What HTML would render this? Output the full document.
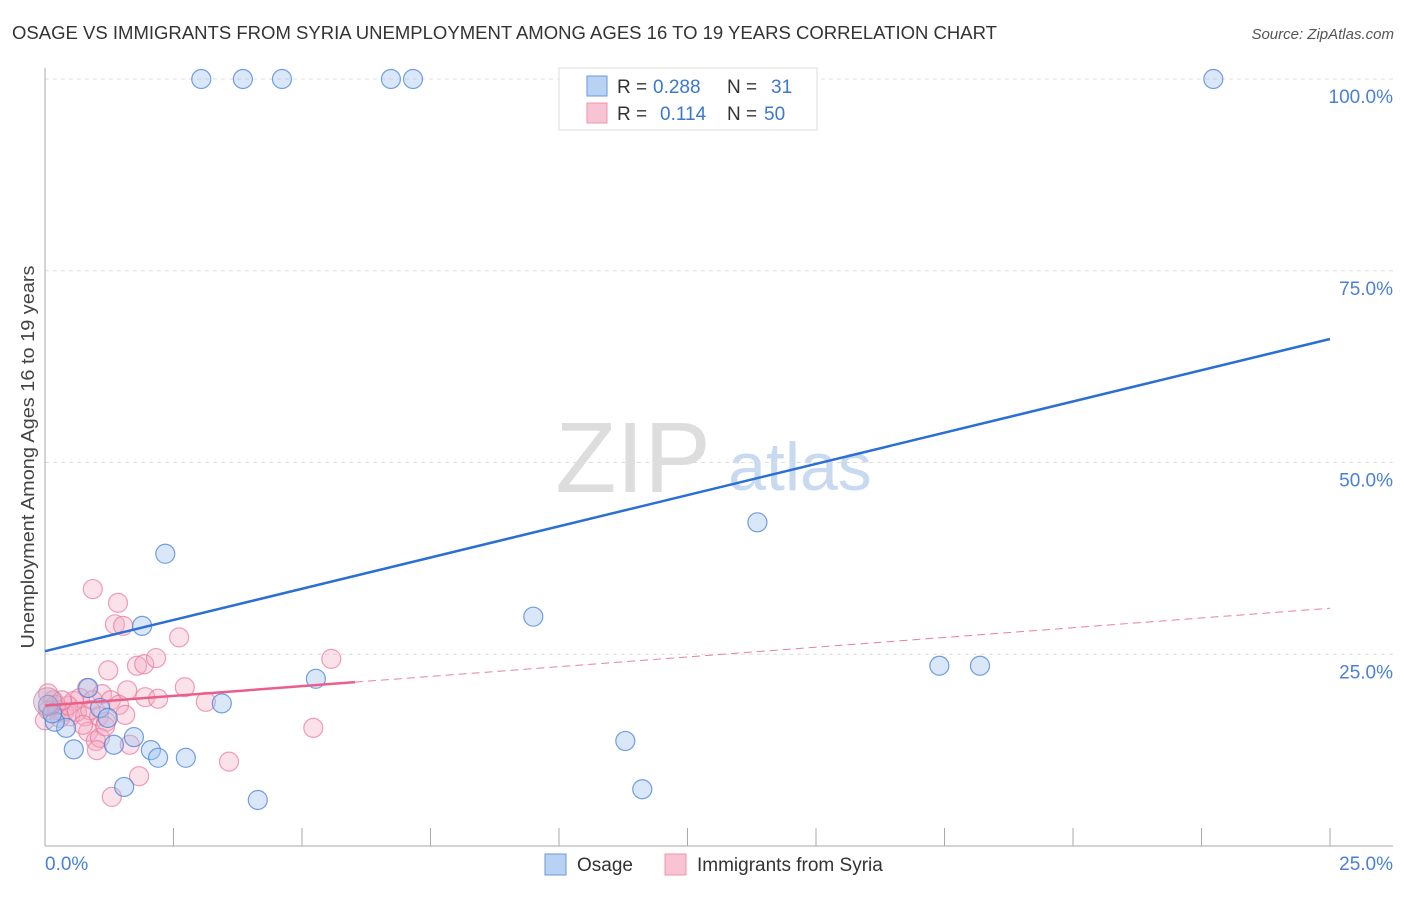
<!DOCTYPE html>
<html><head><meta charset="utf-8"><style>
body{margin:0;background:#fff;font-family:"Liberation Sans",sans-serif;}
svg text{font-family:"Liberation Sans",sans-serif;}
</style></head><body>
<svg id="chart" width="1406" height="892" viewBox="0 0 1406 892" xmlns="http://www.w3.org/2000/svg">
<text x="12" y="39" font-size="18" fill="#333" textLength="985" lengthAdjust="spacingAndGlyphs">OSAGE VS IMMIGRANTS FROM SYRIA UNEMPLOYMENT AMONG AGES 16 TO 19 YEARS CORRELATION CHART</text>
<text x="1394" y="39" font-size="15" fill="#555" font-style="italic" text-anchor="end">Source: ZipAtlas.com</text>
<g>
<text x="633" y="492" font-size="100" fill="#ddd" font-family="Liberation Serif,serif" text-anchor="middle">ZIP</text>
<text x="800" y="490" font-size="68" fill="#c8daf0" text-anchor="middle">atlas</text>
</g>
<g id="grid"></g>
<g id="axes"></g>
<g id="marks"></g>
<text transform="translate(34,457) rotate(-90)" font-size="18" fill="#444" text-anchor="middle" textLength="383" lengthAdjust="spacingAndGlyphs">Unemployment Among Ages 16 to 19 years</text>
<g>
<rect x="559" y="68" width="258" height="62" fill="#fff" stroke="#ddd"/>
<rect x="587" y="76" width="20" height="20" fill="#b8d2f4" stroke="#6a9ad8"/>
<rect x="587" y="103" width="20" height="20" fill="#f8c4d3" stroke="#ec95ae"/>
<text x="617" y="93" font-size="19" fill="#333">R =</text>
<text x="653" y="93" font-size="19" fill="#3a78d0">0.288</text>
<text x="727" y="93" font-size="19" fill="#333">N =</text>
<text x="771" y="93" font-size="19" fill="#3a78d0">31</text>
<text x="617" y="120" font-size="19" fill="#333">R =</text>
<text x="660" y="120" font-size="19" fill="#3a78d0">0.114</text>
<text x="727" y="120" font-size="19" fill="#333">N =</text>
<text x="764" y="120" font-size="19" fill="#3a78d0">50</text>
</g>
<g>
<rect x="545" y="854" width="21" height="21" fill="#b8d2f4" stroke="#6a9ad8"/>
<text x="577" y="871" font-size="19" fill="#333">Osage</text>
<rect x="665" y="854" width="21" height="21" fill="#f8c4d3" stroke="#ec95ae"/>
<text x="697" y="871" font-size="19" fill="#333">Immigrants from Syria</text>
</g>
</svg>
<script>
const osageX=[3.04,3.85,4.61,6.73,7.16,22.73,13.86,2.34,9.50,1.89,17.40,18.19,5.27,0.84,3.44,1.07,1.22,0.41,0.19,0.56,1.34,1.73,2.06,2.20,2.74,1.54,4.14,11.29,11.62,0.06,0.14];
const osageY=[100,100,100,100,100,100,42.2,38.1,29.9,28.7,23.5,23.5,21.8,20.6,18.6,18.0,16.7,15.4,16.2,12.6,13.2,14.2,12.5,11.5,11.5,7.7,6.0,13.7,7.4,18.4,17.3];
const syriaX=[0.93,1.42,1.36,1.52,2.61,1.23,1.79,1.93,2.16,5.57,0.82,1.11,1.60,1.95,2.20,2.72,3.13,0.56,0.68,0.93,0.16,0.06,0.25,0.37,0.49,0.78,1.05,1.28,1.44,1.56,1.19,0.84,0.99,1.07,1.65,1.01,1.83,1.30,5.22,3.58,0.06,0.0,0.29,0.45,0.62,0.21,0.88,1.17,0.74,0.33];
const syriaY=[33.5,31.7,28.9,28.7,27.2,22.9,23.5,23.7,24.5,24.4,20.6,19.8,20.3,19.4,19.2,20.7,18.8,18.9,19.3,19.0,19.0,19.9,17.7,17.5,16.9,16.9,16.9,19.0,18.4,17.1,16.2,14.9,13.7,14.1,13.2,12.5,9.1,6.4,15.4,11.0,17.7,16.4,16.7,18.3,17.5,18.4,17.7,15.6,15.8,19.0];
const osageTrend=[25.4,66.1];   // y at x=0, x=25
const syriaTrend=[18.3,31.0];   // y at x=0, x=25
const syriaSolidEnd=6.03;
const yTicks=[25,50,75,100];
const xTicks=[0,2.5,5,7.5,10,12.5,15,17.5,20,22.5,25];

const NS="http://www.w3.org/2000/svg";
const X=v=>45+v/25*1285;
const Y=v=>846-v/100*767;
function mk(tag,attrs,parent){const e=document.createElementNS(NS,tag);for(const k in attrs)e.setAttribute(k,attrs[k]);parent.appendChild(e);return e;}
const grid=document.getElementById('grid'),axes=document.getElementById('axes'),marks=document.getElementById('marks');
yTicks.forEach(t=>{
  const l=mk('line',{x1:45,x2:1393,y1:Y(t),y2:Y(t),stroke:'#ddd','stroke-dasharray':'4,4'},grid);
  
  
  const tx=mk('text',{x:1393,y:Y(t)+24,'font-size':19,fill:'#4a80d6','text-anchor':'end'},axes);
  tx.textContent=t.toFixed(1)+'%';
  
  
});
let a=mk('line',{x1:45,x2:45,y1:68,y2:846,stroke:'#aaa'},axes);


a=mk('line',{x1:45,x2:1393,y1:846,y2:846,stroke:'#aaa'},axes);


xTicks.forEach(t=>{
  const l=mk('line',{x1:X(t),x2:X(t),y1:828,y2:846,stroke:'#aaa'},axes);
  
  
});
[[0,45,'start'],[25,1393,'end']].forEach(([v,x,an])=>{
  const tx=mk('text',{x:x,y:870,'font-size':19,fill:'#4a80d6','text-anchor':an},axes);
  tx.textContent=v.toFixed(1)+'%';
  
  
});
syriaX.forEach((x,i)=>{
  const c=mk('circle',{cx:X(x),cy:Y(syriaY[i]),r:9.5,fill:'rgba(244,170,195,0.35)',stroke:'rgba(232,120,155,0.7)','stroke-width':1.2},marks);
  
  
});
osageX.forEach((x,i)=>{
  const c=mk('circle',{cx:X(x),cy:Y(osageY[i]),r:9.5,fill:'rgba(160,195,240,0.4)',stroke:'rgba(70,130,215,0.75)','stroke-width':1.2},marks);
  
  
});
const big=mk('circle',{cx:X(0.05),cy:Y(18.8),r:14,fill:'rgba(200,170,200,0.45)',stroke:'rgba(200,130,170,0.7)'},marks);


const ty=(tr,x)=>tr[0]+(tr[1]-tr[0])*x/25;
let tl=mk('line',{x1:X(0),y1:Y(osageTrend[0]),x2:X(25),y2:Y(osageTrend[1]),stroke:'#2a6fd4','stroke-width':2.5},marks);


tl=mk('line',{x1:X(0),y1:Y(syriaTrend[0]),x2:X(syriaSolidEnd),y2:Y(ty(syriaTrend,syriaSolidEnd)),stroke:'#e8608a','stroke-width':2.5},marks);


tl=mk('line',{x1:X(syriaSolidEnd),y1:Y(ty(syriaTrend,syriaSolidEnd)),x2:X(25),y2:Y(syriaTrend[1]),stroke:'#e8809f','stroke-width':1,'stroke-dasharray':'8,5'},marks);


</script>
</body></html>
